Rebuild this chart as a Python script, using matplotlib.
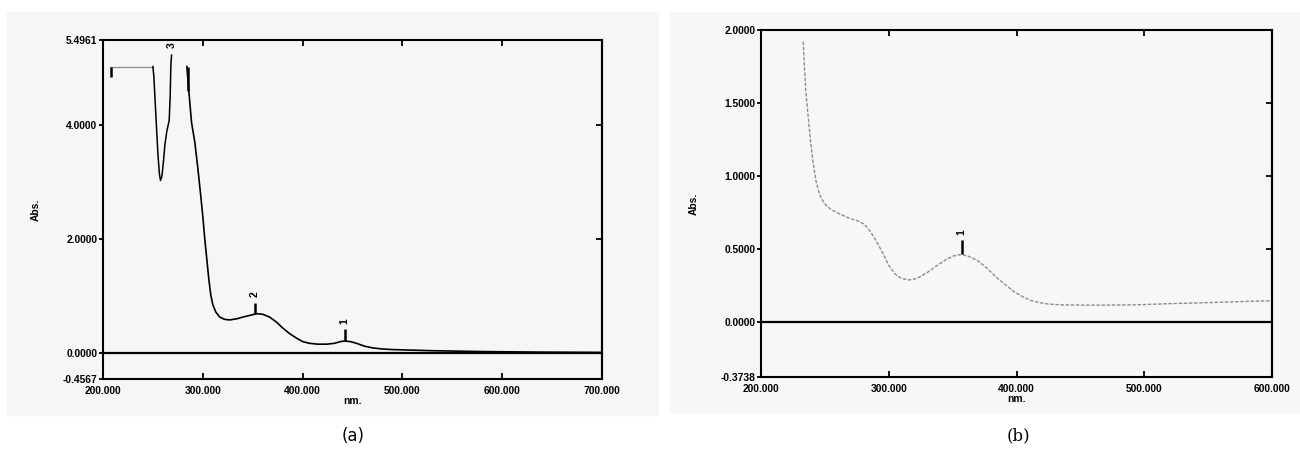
import numpy as np
import matplotlib
matplotlib.use("Agg")
import matplotlib.pyplot as plt
from matplotlib.patches import Rectangle

# spectrum (a)
a_plateau_nm = [207, 250]
a_plateau_abs = [5.03, 5.03]
a_dip_nm = [250, 251, 252, 253.5, 255, 256.5, 257.6, 259, 260.5, 262, 264, 266.3,
            267.3, 268, 268.7]
a_dip_abs = [5.03, 4.85, 4.5, 4.0, 3.5, 3.15, 3.03, 3.1, 3.35, 3.65, 3.9, 4.08,
             4.5, 5.05, 5.23]
a_nm = [284, 286, 288.7, 292, 295, 298, 300, 302, 304, 306, 308, 310, 313, 317, 322,
        327, 334, 340, 347, 354, 360, 367, 374, 380, 387, 394, 400, 407, 415, 424,
        432, 438, 442, 448, 454, 462, 470, 480, 490, 510, 530, 580, 640, 700]
a_abs = [5.03, 4.6, 4.05, 3.7, 3.25, 2.75, 2.4, 2.0, 1.65, 1.3, 1.02, 0.85, 0.72,
         0.63, 0.59, 0.58, 0.6, 0.63, 0.66, 0.69, 0.68, 0.63, 0.54, 0.44, 0.34, 0.26,
         0.2, 0.17, 0.155, 0.155, 0.17, 0.2, 0.21, 0.2, 0.17, 0.12, 0.09, 0.07, 0.06,
         0.05, 0.04, 0.025, 0.015, 0.01]
a_peak_nm = [269, 352, 442]
a_peak_lbl = ["3", "2", "1"]
a_peak_lo = [5.23, 0.69, 0.21]
a_peak_hi = [5.23, 0.88, 0.43]
a_lbl_y = [5.40, 1.03, 0.56]
a_mark_nm = [208, 285]
a_mark_lo = [4.85, 4.6]
a_mark_hi = [5.03, 5.03]
a_yticks = [-0.4567, 0.0, 2.0, 4.0, 5.4961]
a_ylabels = ["-0.4567", "0.0000", "2.0000", "4.0000", "5.4961"]
a_xticks = [200, 300, 400, 500, 600, 700]

# spectrum (b)
b_nm = [233, 234, 235, 237, 239, 241, 243, 245, 247, 250, 255, 262, 270, 277, 281,
        285, 290, 295, 300, 305, 310, 316, 322, 330, 338, 345, 351, 357, 363, 370,
        377, 384, 391, 398, 404, 411, 418, 425, 435, 450, 470, 494, 520, 550, 575, 600]
b_abs = [1.92, 1.75, 1.59, 1.4, 1.22, 1.08, 0.97, 0.9, 0.85, 0.81, 0.77, 0.74, 0.71,
         0.69, 0.67, 0.63, 0.56, 0.48, 0.39, 0.33, 0.3, 0.29, 0.3, 0.34, 0.39, 0.43,
         0.455, 0.465, 0.45, 0.42, 0.37, 0.31, 0.26, 0.21, 0.18, 0.15, 0.135, 0.125,
         0.12, 0.118, 0.118, 0.12, 0.128, 0.135, 0.142, 0.148]
b_peak_nm = [357]
b_peak_lbl = ["1"]
b_peak_lo = [0.47]
b_peak_hi = [0.56]
b_lbl_y = [0.62]
b_yticks = [-0.3738, 0.0, 0.5, 1.0, 1.5, 2.0]
b_ylabels = ["-0.3738", "0.0000", "0.5000", "1.0000", "1.5000", "2.0000"]
b_xticks = [200, 300, 400, 500, 600]

fnt = dict(family=["Liberation Sans", "DejaVu Sans"], weight="bold", size=7.4)

fig = plt.figure(figsize=(13, 4.55), dpi=100)
fig.patch.set_facecolor("white")
fig.patches.append(Rectangle((7/1300, 1 - 415/455), 651/1300, 403/455,
                             transform=fig.transFigure, color="#f6f6f6", zorder=-10))
fig.patches.append(Rectangle((670/1300, 1 - 412/455), 630/1300, 400/455,
                             transform=fig.transFigure, color="#f7f7f7", zorder=-10))

ax1 = fig.add_axes([103/1300, 1 - 379/455, 499/1300, 339/455])
ax2 = fig.add_axes([761/1300, 1 - 377/455, 511/1300, 347/455])


def setup(ax, xt, yt, ylab, xlim, ylim, inner_y):
    ax.set_facecolor("none")
    ax.set_xlim(*xlim)
    ax.set_ylim(*ylim)
    for s in ax.spines.values():
        s.set_linewidth(1.5)
    ax.axhline(0, color="black", lw=1.6)
    ax.set_xticks(xt)
    ax.set_xticklabels(["%d.000" % v for v in xt], **fnt)
    ax.set_yticks(yt)
    ax.set_yticklabels(ylab, **fnt)
    ax.tick_params(axis="x", direction="in", top=True, length=4, width=1.3, pad=5)
    ax.tick_params(axis="y", direction="out", length=3, width=1.3, pad=1)
    sec = ax.secondary_yaxis("right")
    sec.set_yticks(inner_y)
    sec.tick_params(direction="in", length=4, width=1.3, labelright=False)
    sec.spines["right"].set_linewidth(1.5)
    ax.set_ylabel("Abs.", labelpad=16, **fnt)
    ax.set_xlabel("nm.", labelpad=0, **fnt)


setup(ax1, a_xticks, a_yticks, a_ylabels, (200, 700), (-0.4567, 5.4961), [2.0, 4.0])
setup(ax2, b_xticks, b_yticks, b_ylabels, (200, 600), (-0.3738, 2.0), [0.5, 1.0, 1.5])

# panel (a)
ax1.plot(a_plateau_nm, a_plateau_abs, color="#8a8a8a", lw=0.9)
ax1.plot(a_dip_nm, a_dip_abs, color="black", lw=1.1)
ax1.plot(a_nm, a_abs, color="black", lw=1.2)
ax1.vlines(a_peak_nm, a_peak_lo, a_peak_hi, color="black", lw=1.8)
ax1.vlines(a_mark_nm, a_mark_lo, a_mark_hi, color="black", lw=1.8)
for x, y, t in zip(a_peak_nm, a_lbl_y, a_peak_lbl):
    ax1.text(x, y, t, rotation=90, ha="center", va="center", **fnt)

# panel (b)
ax2.plot(b_nm, b_abs, color="#8c8c8c", lw=1.0, dashes=(2.5, 1.2))
ax2.vlines(b_peak_nm, b_peak_lo, b_peak_hi, color="black", lw=1.8)
for x, y, t in zip(b_peak_nm, b_lbl_y, b_peak_lbl):
    ax2.text(x, y, t, rotation=90, ha="center", va="center", **fnt)

fig.text(353/1300, 1 - 436/455, "(a)", ha="center", va="center",
         family="DejaVu Sans", size=12)
fig.text(1018/1300, 1 - 436/455, "(b)", ha="center", va="center",
         family="DejaVu Serif", size=12)

fig.savefig("out.png", dpi=100)
